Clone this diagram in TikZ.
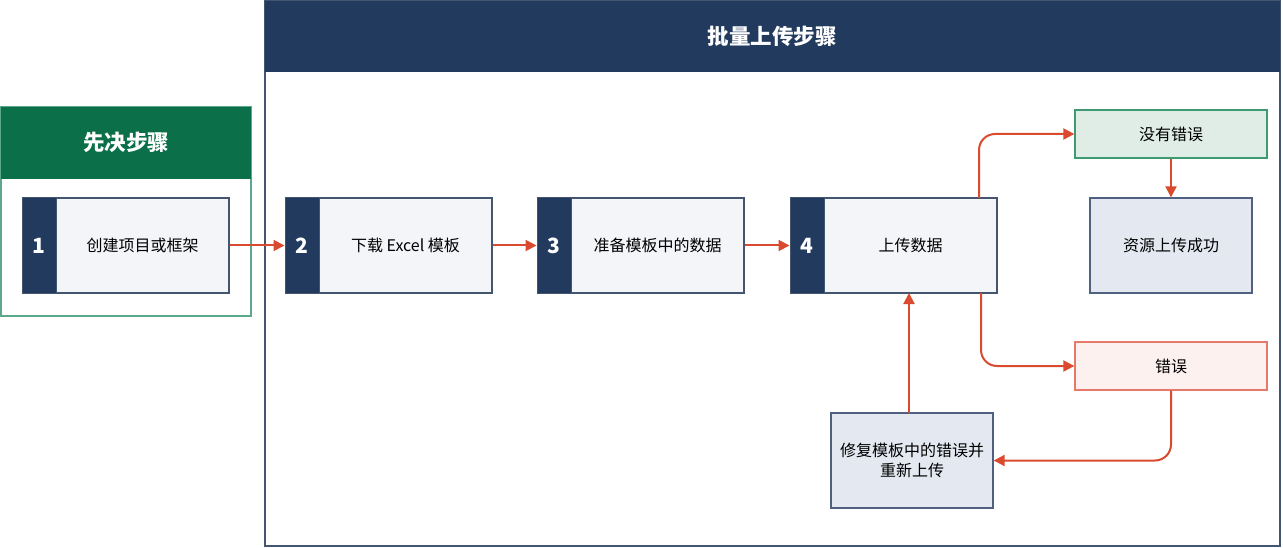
\documentclass[tikz,border=0pt]{standalone}
\usepackage{fontspec}
\setmainfont{Noto Sans CJK SC}
\usetikzlibrary{arrows.meta}
\definecolor{navy}{HTML}{213A5E}
\definecolor{hgreen}{HTML}{0B7049}
\definecolor{pgreen}{HTML}{5BA98A}
\definecolor{boxfill}{HTML}{F3F5F8}
\definecolor{boxline}{HTML}{44556F}
\definecolor{redarr}{HTML}{D94A2E}
\definecolor{okfill}{HTML}{E0EDE7}
\definecolor{okline}{HTML}{3E9A70}
\definecolor{errfill}{HTML}{FDF1EF}
\definecolor{errline}{HTML}{E8786A}
\definecolor{blfill}{HTML}{E4E9F1}
\definecolor{blline}{HTML}{4F6080}
\tikzset{
  panelhead/.style={fill=#1, draw=none, text=white, font=\bfseries\fontsize{21.5}{25}\selectfont, inner sep=0pt},
  numbar/.style={fill=navy, draw=boxline, line width=1pt, text=white, font=\bfseries\fontsize{21}{25}\selectfont, minimum width=34pt, minimum height=95pt, inner sep=0pt},
  stepbox/.style={fill=boxfill, draw=boxline, line width=1.2pt, font=\fontsize{16}{20}\selectfont, minimum width=173pt, minimum height=95pt, inner sep=0pt},
  outbox/.style={fill=#1fill, draw=#1line, line width=1.3pt, font=\fontsize{16}{20}\selectfont, inner sep=0pt, align=center},
  flow/.style={draw=redarr, line width=2pt, -{Triangle[length=11pt,width=11pt]}, rounded corners=16pt},
}
\begin{document}
\begin{tikzpicture}[x=1pt,y=-1pt]
\useasboundingbox (0,0) rectangle (1283,548);
% left panel
\draw[pgreen, line width=1.2pt] (1,107) rectangle (251,316);
\fill[hgreen] (1,107) rectangle (251,179);
\node[panelhead=hgreen] (lhead) at (126,142) {先决步骤};
% right panel
\draw[boxline, line width=1.2pt] (265,1) rectangle (1280,546);
\fill[navy] (265,1) rectangle (1280,72);
\node[panelhead=navy] (rhead) at (772,36) {批量上传步骤};
% step boxes
\node[stepbox] (s1) at (142.5,245.5) {创建项目或框架};
\node[numbar] (n1) at (39,245.5) {1};
\node[stepbox] (s2) at (405.5,245.5) {下载 Excel 模板};
\node[numbar] (n2) at (302,245.5) {2};
\node[stepbox] (s3) at (657.5,245.5) {准备模板中的数据};
\node[numbar] (n3) at (554,245.5) {3};
\node[stepbox] (s4) at (910.5,245.5) {上传数据};
\node[numbar] (n4) at (807,245.5) {4};
% outcome boxes
\node[outbox=ok, minimum width=192pt, minimum height=48pt] (ok) at (1171,134) {没有错误};
\node[outbox=bl, minimum width=162pt, minimum height=95pt] (succ) at (1171,245.5) {资源上传成功};
\node[outbox=err, minimum width=192pt, minimum height=48pt] (err) at (1171,366) {错误};
\node[outbox=bl, minimum width=162pt, minimum height=95pt] (fix) at (912,460.5) {修复模板中的错误并\\重新上传};
% connectors
\draw[flow] (s1.east) -- (n2.west);
\draw[flow] (s2.east) -- (n3.west);
\draw[flow] (s3.east) -- (n4.west);
\coordinate (a4up) at (979,198);
\coordinate (a4dn) at (981,293);
\draw[flow] (a4up) |- (ok.west);
\draw[flow] (ok.south) -- (succ.north);
\draw[flow] (a4dn) |- (err.west);
\draw[flow] (err.south) |- (fix.east);
\coordinate (fixtop) at (909,413);
\coordinate (s4bot) at (909,293);
\draw[flow] (fixtop) -- (s4bot);
\end{tikzpicture}
\end{document}
